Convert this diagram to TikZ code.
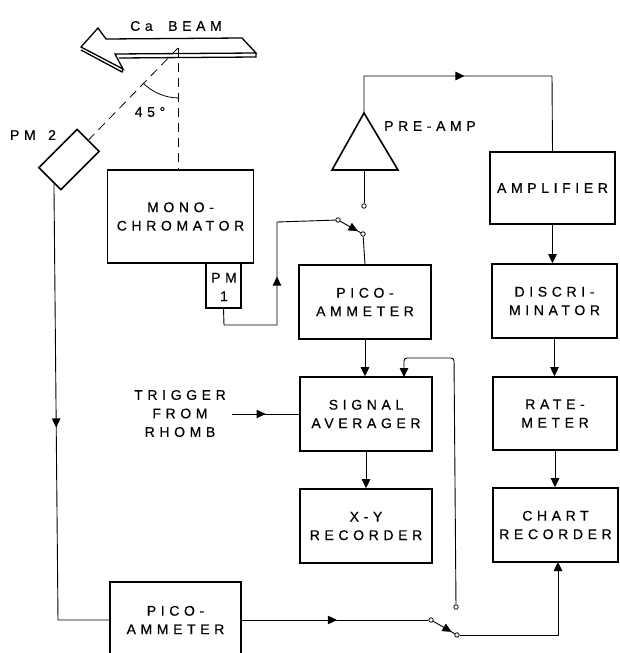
\documentclass[tikz,border=0pt]{standalone}
\usepackage{fontspec}
\setmainfont[LetterSpace=33,FakeBold=0.5]{Liberation Sans}
\usetikzlibrary{arrows.meta,decorations.markings,calc}
\tikzset{
  box/.style={draw,line width=1.6pt,rectangle,inner sep=0pt,align=center,text=black,
    font=\fontsize{14}{18.5}\selectfont},
  lbl/.style={inner sep=0pt,align=center,font=\fontsize{14}{18.5}\selectfont},
  wire/.style={line width=0.9pt,line join=round},
  tip/.style={-{Triangle[length=9pt,width=8.5pt]}},
  midtip/.style={postaction={decorate},decoration={markings,mark=at position #1 with {\arrow{Triangle[length=9pt,width=8.5pt]}}}},
  term/.style={circle,draw,line width=0.8pt,fill=white,minimum size=4.5pt,inner sep=0pt},
  dash line/.style={line width=0.8pt,dash pattern=on 9pt off 6pt},
}
\begin{document}
\begin{tikzpicture}[x=1pt,y=-1pt]
\useasboundingbox (0,0) rectangle (619,653);
\clip (0,0) rectangle (619,653);
% boxes
\node[box,minimum width=146pt,minimum height=93pt] (mono) at (180.5,216.5) {MONO-\\CHROMATOR};
\node[box,minimum width=35pt,minimum height=45pt] (pm1) at (223.5,285.5) {};
\node[lbl] (pm1t) at (224,287) {PM\\1};
\node[box,minimum width=132pt,minimum height=74pt] (pico1) at (365,302) {PICO-\\AMMETER};
\node[box,minimum width=132pt,minimum height=74pt] (sig) at (366,414) {SIGNAL\\AVERAGER};
\node[box,minimum width=132pt,minimum height=74pt] (xy) at (366,526) {X-Y\\RECORDER};
\node[box,minimum width=131pt,minimum height=76pt] (pico2) at (175.5,620) {PICO-\\AMMETER};
\node[box,minimum width=125pt,minimum height=72pt] (amp) at (552.5,188) {AMPLIFIER};
\node[box,minimum width=125pt,minimum height=74pt] (disc) at (554.5,301) {DISCRI-\\MINATOR};
\node[box,minimum width=124pt,minimum height=73pt] (rate) at (555,413.5) {RATE-\\METER};
\node[box,minimum width=125pt,minimum height=74pt] (chart) at (555.5,525) {CHART\\RECORDER};
\node[box,minimum width=54pt,minimum height=31pt,rotate=45] (pm2) at (69,159.5) {};
% pre-amp triangle
\coordinate (triA) at (364,113);
\coordinate (triB) at (398,170);
\coordinate (triC) at (332,170);
\draw[line width=1.6pt,line join=miter] (triA) -- (triB) -- (triC) -- cycle;
\node[lbl,anchor=west] (preamp) at (384,126) {PRE-AMP};
% labels
\node[lbl] (beam) at (176,26) {Ca\hspace{7pt} BEAM};
\node[lbl] (pm2t) at (33,135) {PM\hspace{4pt} 2};
\node[lbl] (angle) at (150,112) {45\textdegree};
\node[lbl] (trig) at (180,413.5) {TRIGGER\\FROM\\RHOMB};
% terminals
\node[term] (s1a) at (338,220) {};
\node[term] (s1b) at (363,234) {};
\node[term] (s1c) at (364,206) {};
\node[term] (s2a) at (431,620) {};
\node[term] (s2b) at (457,635) {};
\node[term] (s2c) at (456,607) {};
% beam arrow
\draw[line width=1.3pt,line join=miter,fill=white]
  (81,47) -- (98,28) -- (106,39) -- (242,38) -- (256,53) -- (115,54) -- (123,69) -- cycle;
\draw[line width=1.3pt] (81,50) -- (122,72) -- (123,69);
\draw[line width=1.3pt] (119,58) -- (256,57) -- (256,53);
% beam geometry
\coordinate (hit) at (178,48);
\draw[dash line] (hit) -- (pm2.east);
\draw[dash line] (hit) -- (hit |- mono.north);
\draw[line width=0.8pt] (143,83) .. controls (152,92) and (165,98) .. (179,98);
% connectors
\draw[wire,midtip=0.458] (triA) -- (364,76) -- (552,76) -- (amp.north);
\draw[wire] (triC -| triA) -- (s1c);
\draw[wire,midtip=0.85] (s1a) -- (s1b);
\draw[wire] (s1b) -- (pico1.north);
\coordinate (pm1d) at (224,325);
\coordinate (pm1u) at (277,325);
\draw[wire,midtip=0.51] (pm1.south) -- (pm1d) -- (pm1u) -- (277,222) -- (s1a);
\draw[wire,tip] (pico1.south) -- (sig.north -| pico1.south);
\draw[wire,tip] (sig.south) -- (xy.north);
\draw[wire,tip] (amp.south) -- (disc.north -| amp.south);
\draw[wire,tip] (disc.south) -- (rate.north -| disc.south);
\draw[wire,tip] (rate.south) -- (chart.north -| rate.south);
\coordinate (trigs) at (232,414);
\draw[wire,midtip=0.5] (trigs) -- (sig.west);
\draw[wire,tip,rounded corners=3pt] (s2c) -- (454,358) -- (404,358) -- (404,377);
\draw[wire,midtip=0.5] ($(pm2.south west)!0.3!(pm2.north west)$) -- (58,620) -- (pico2.west);
\draw[wire,midtip=0.51] (pico2.east |- s2a) -- (s2a);
\draw[wire,midtip=0.85] (s2a) -- (s2b);
\draw[wire,tip] (s2b) -- (558,635) -- (558,562);
\end{tikzpicture}
\end{document}
